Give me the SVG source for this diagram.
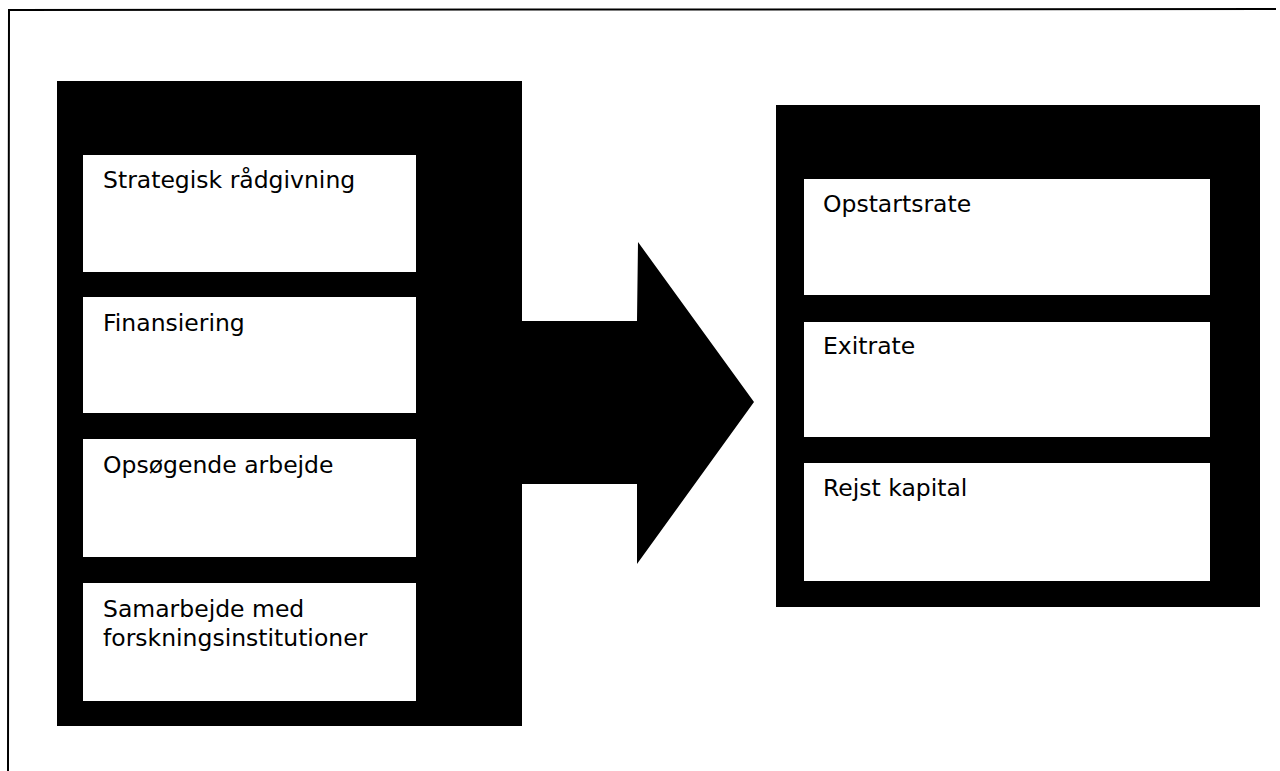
<svg xmlns="http://www.w3.org/2000/svg" width="1280" height="771" viewBox="0 0 1280 771">
<style>
.panel{fill:#000}
.box{fill:#fff}
.lbl{font-family:"DejaVu Sans",Verdana,sans-serif;font-size:23.5px;fill:#000}
</style>
<rect x="0" y="0" width="1280" height="771" fill="#fff"/>
<path d="M8 771 L9 10 L1276 9" fill="none" stroke="#000" stroke-width="2"/>
<g id="connectors">
<polygon points="515,321 637,321 638,242 754,402 637,564 637,484 515,484" fill="#000"/>
</g>
<g id="left-panel">
<rect class="panel" x="57" y="81" width="465" height="645"/>
</g>
<g id="strategisk">
<rect class="box" x="83" y="155" width="333" height="117"/>
<text class="lbl" x="103" y="188">Strategisk rådgivning</text>
</g>
<g id="finansiering">
<rect class="box" x="83" y="297" width="333" height="116"/>
<text class="lbl" x="103" y="331">Finansiering</text>
</g>
<g id="opsoegende">
<rect class="box" x="83" y="439" width="333" height="118"/>
<text class="lbl" x="103" y="473">Opsøgende arbejde</text>
</g>
<g id="samarbejde">
<rect class="box" x="83" y="583" width="333" height="118"/>
<text class="lbl" x="103" y="617">Samarbejde med</text>
<text class="lbl" x="103" y="646">forskningsinstitutioner</text>
</g>
<g id="right-panel">
<rect class="panel" x="776" y="105" width="484" height="502"/>
</g>
<g id="opstartsrate">
<rect class="box" x="804" y="179" width="406" height="116"/>
<text class="lbl" x="823" y="212">Opstartsrate</text>
</g>
<g id="exitrate">
<rect class="box" x="804" y="322" width="406" height="115"/>
<text class="lbl" x="823" y="354">Exitrate</text>
</g>
<g id="rejst-kapital">
<rect class="box" x="804" y="463" width="406" height="118"/>
<text class="lbl" x="823" y="496">Rejst kapital</text>
</g>
</svg>
